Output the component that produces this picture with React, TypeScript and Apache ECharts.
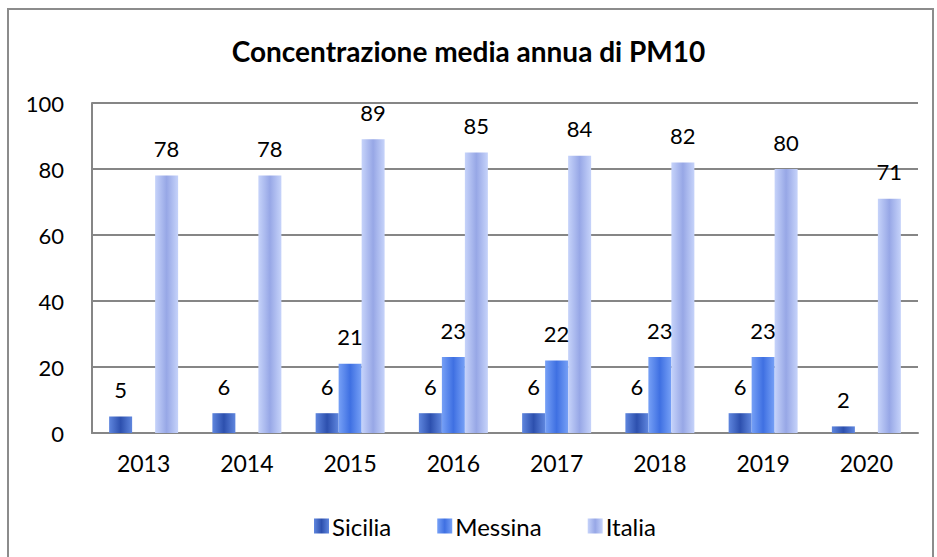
import React, { useEffect, useRef } from "react";
import * as echarts from "echarts";

const years = ["2013", "2014", "2015", "2016", "2017", "2018", "2019", "2020"];
const sicilia = [5, 6, 6, 6, 6, 6, 6, 2];
const messina: (number | null)[] = [null, null, 21, 23, 22, 23, 23, null];
const italia = [78, 78, 89, 85, 84, 82, 80, 71];
const yTicks = { min: 0, max: 100, interval: 20 };

const FONT = "Lato, 'Open Sans', sans-serif";

const grad = (edge: string, mid: string) =>
  new echarts.graphic.LinearGradient(0, 0, 1, 0, [
    { offset: 0, color: edge },
    { offset: 0.5, color: mid },
    { offset: 1, color: edge },
  ]);

export default function App() {
  const ref = useRef<HTMLDivElement>(null);
  useEffect(() => {
    if (!ref.current) return;
    const chart = echarts.init(ref.current, undefined, { renderer: "svg" });
    const label = {
      show: true,
      position: "top",
      distance: 16,
      color: "#000",
      fontSize: 22,
      fontFamily: FONT,
    };
    const mk = (name: string, data: (number | null)[], edge: string, mid: string) => ({
      name,
      type: "bar",
      data,
      barWidth: 23,
      barGap: "0%",
      itemStyle: { color: grad(edge, mid) },
      label,
    });
    chart.setOption({
      animation: false,
      backgroundColor: "#fff",
      title: {
        text: "Concentrazione media annua di PM10",
        left: "center",
        top: 32,
        textStyle: { fontFamily: FONT, fontSize: 28, fontWeight: "bold", color: "#000" },
      },
      graphic: [
        {
          type: "rect",
          shape: { x: 8, y: 9, width: 925, height: 600 },
          style: { fill: "none", stroke: "#8c8c8c", lineWidth: 2 },
          silent: true,
        },
      ],
      legend: {
        left: 309,
        top: 509,
        itemWidth: 15,
        itemHeight: 15,
        itemGap: 46,
        icon: "rect",
        textStyle: { fontFamily: FONT, fontSize: 24, color: "#000", padding: [0, 0, 0, -2] },
        data: ["Sicilia", "Messina", "Italia"],
      },
      grid: { left: 92, right: 19, top: 103, bottom: 124, containLabel: false },
      xAxis: {
        type: "category",
        data: years,
        axisLine: { lineStyle: { color: "#868686", width: 2 } },
        axisTick: { show: false },
        axisLabel: { fontFamily: FONT, fontSize: 23, color: "#000", margin: 18 },
      },
      yAxis: {
        type: "value",
        min: yTicks.min,
        max: yTicks.max,
        interval: yTicks.interval,
        axisLine: { show: true, lineStyle: { color: "#868686", width: 2 } },
        axisTick: { show: false },
        splitLine: { lineStyle: { color: "#868686", width: 2 } },
        axisLabel: { fontFamily: FONT, fontSize: 22, color: "#000", margin: 28 },
      },
      series: [
        mk("Sicilia", sicilia, "#5F86DE", "#2D50AE"),
        mk("Messina", messina, "#76A0F6", "#3F70E2"),
        mk("Italia", italia, "#C6D3FA", "#97A7E6"),
      ],
    });
    return () => chart.dispose();
  }, []);
  return (
    <div
      ref={ref}
      style={{ position: "fixed", left: 0, top: 0, width: 937, height: 557 }}
    />
  );
}
